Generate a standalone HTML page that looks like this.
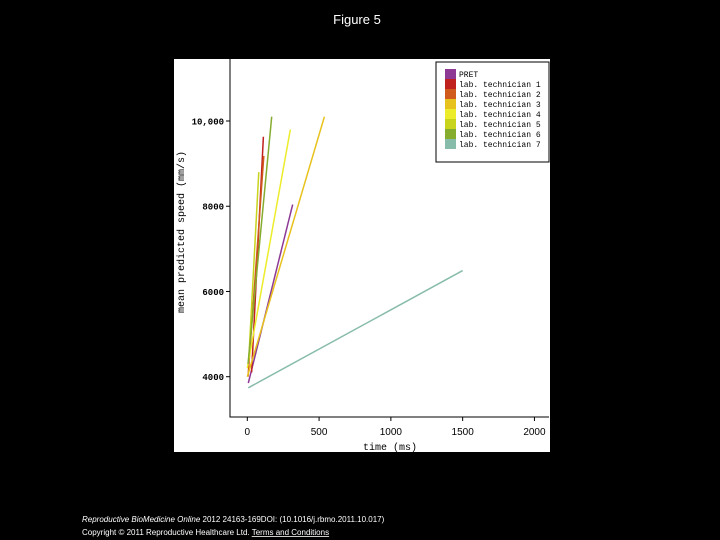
<!DOCTYPE html>
<html><head><meta charset="utf-8"><style>
body{margin:0;background:#000;width:720px;height:540px;overflow:hidden;font-family:"Liberation Sans",sans-serif}
svg{position:absolute;left:0;top:0}
</style></head><body>
<svg width="720" height="540">
<text x="357" y="24" fill="#fff" font-size="13" text-anchor="middle">Figure 5</text>
<rect x="174" y="59" width="376" height="393" fill="#fff"/>
<g id="plot"></g>
<text x="82" y="522" fill="#fff" font-size="8"><tspan font-style="italic">Reproductive BioMedicine Online</tspan> 2012 24163-169DOI: (10.1016/j.rbmo.2011.10.017)</text>
<text x="82" y="535" fill="#fff" font-size="8">Copyright © 2011 Reproductive Healthcare Ltd. <tspan text-decoration="underline">Terms and Conditions</tspan></text>
</svg>
<script>
const series=["PRET","lab. technician 1","lab. technician 2","lab. technician 3","lab. technician 4","lab. technician 5","lab. technician 6","lab. technician 7"];
const colors=["#8e3a95","#c0201e","#cf5a1c","#e8c21c","#ecec2a","#c8d41c","#86ac2e","#88bcaa"];
const startT=[7,30,5,0,0,10,5,7];
const startV=[3850,4100,4000,4000,4200,4400,4300,3740];
const endT=[316,112,115,537,300,80,170,1500];
const endV=[8040,9630,9180,10100,9800,8800,10100,6490];
const xTicks=[0,500,1000,1500,2000];
const yTicks=[4000,6000,8000,10000];
const yTickLabels=["4000","6000","8000","10,000"];
const NS="http://www.w3.org/2000/svg";
const g=document.getElementById('plot');
const X=t=>247.3+t*0.14357;
const Y=v=>121+(10000-v)*0.042617;
function mk(tag,a){const e=document.createElementNS(NS,tag);for(const k in a)e.setAttribute(k,a[k]);g.appendChild(e);return e;}
let ax=mk('path',{d:"M230,59V417H549",stroke:"#000",fill:"none","stroke-width":1});


xTicks.forEach(t=>{
 const tk=mk('line',{x1:X(t),x2:X(t),y1:417,y2:421,stroke:"#000"});
 
 
 const l=mk('text',{x:X(t),y:435,"font-size":10,"text-anchor":"middle","font-family":"Liberation Sans, sans-serif"});
 l.textContent=t;
 
 
});
yTicks.forEach((v,i)=>{
 const tk=mk('line',{x1:226,x2:230,y1:Y(v),y2:Y(v),stroke:"#000"});
 
 
 const l=mk('text',{x:224,y:Y(v)+3.5,"font-size":9,"text-anchor":"end","font-family":"Liberation Mono, monospace","font-weight":"bold"});
 l.textContent=yTickLabels[i];
 
 
});
const xt=mk('text',{x:390,y:450,"font-size":10,"text-anchor":"middle","font-family":"Liberation Mono, monospace"});
xt.textContent="time (ms)";


const yt=mk('text',{x:0,y:0,"font-size":10,"text-anchor":"middle","font-family":"Liberation Mono, monospace",transform:"translate(184,232) rotate(-90)"});
yt.textContent="mean predicted speed (mm/s)";


series.forEach((s,i)=>{
 const ln=mk('line',{x1:X(startT[i]),y1:Y(startV[i]),x2:X(endT[i]),y2:Y(endV[i]),stroke:colors[i],"stroke-width":1.5});
 
 
});
const lb=mk('rect',{x:436,y:62,width:113,height:100,fill:"#fff",stroke:"#000"});


series.forEach((s,i)=>{
 const sw=mk('rect',{x:445,y:69+i*10,width:11,height:10,fill:colors[i]});
 
 
 const t=mk('text',{x:459,y:77+i*10,"font-size":8,"font-family":"Liberation Mono, monospace"});
 t.textContent=s;
 
 
});
</script>
</body></html>
